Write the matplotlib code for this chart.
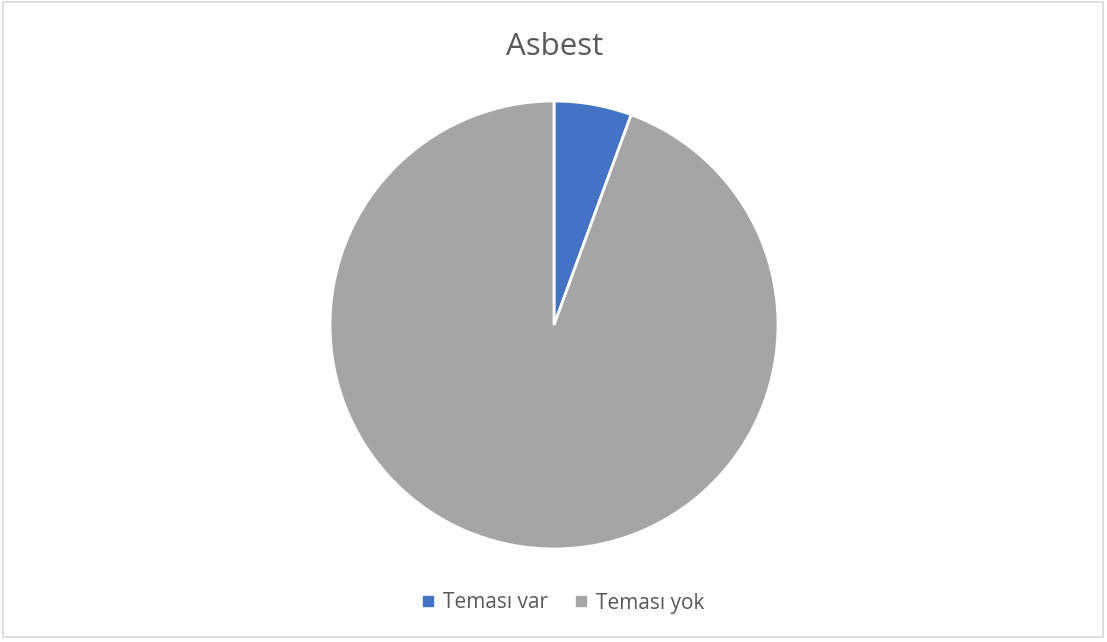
import matplotlib
matplotlib.use("Agg")
import matplotlib.pyplot as plt
from matplotlib.patches import Rectangle
from matplotlib.lines import Line2D

labels = ["Teması var", "Teması yok"]
values = [5.6, 94.4]
colors = ["#4472C4", "#A5A5A5"]
title = "Asbest"

W, H = 1107, 642
fig = plt.figure(figsize=(W / 100, H / 100), dpi=100)
fig.patch.set_facecolor("white")

# chart border
fig.patches.append(Rectangle((3 / W, 1 - 637 / H), 1100 / W, 635 / H,
                             transform=fig.transFigure, fill=False,
                             edgecolor="#D9D9D9", linewidth=1.2))

cx, cy, r = 554, 325, 224
ax = fig.add_axes([(cx - r) / W, 1 - (cy + r) / H, 2 * r / W, 2 * r / H])
ax.pie(values, colors=colors, startangle=90, counterclock=False,
       wedgeprops=dict(edgecolor="white", linewidth=2), radius=1.0)
ax.set_xlim(-1, 1)
ax.set_ylim(-1, 1)
ax.set_aspect("auto")
ax.axis("off")

fig.text(555 / W, 1 - 47 / H, title, ha="center", va="center",
         fontsize=22.5, color="#595959", family="Open Sans")

handles = [Line2D([0], [0], marker="s", linestyle="", markersize=7,
                  markerfacecolor=c, markeredgecolor=c) for c in colors]
leg = fig.legend(handles, labels, loc="center", bbox_to_anchor=(563 / W, 1 - 603 / H),
                 ncol=2, frameon=False, handlelength=0.6,
                 handletextpad=0.4, columnspacing=1.3,
                 prop=dict(family="Open Sans", size=15))
for t in leg.get_texts():
    t.set_color("#595959")

fig.savefig("out.png", dpi=100, facecolor="white")
